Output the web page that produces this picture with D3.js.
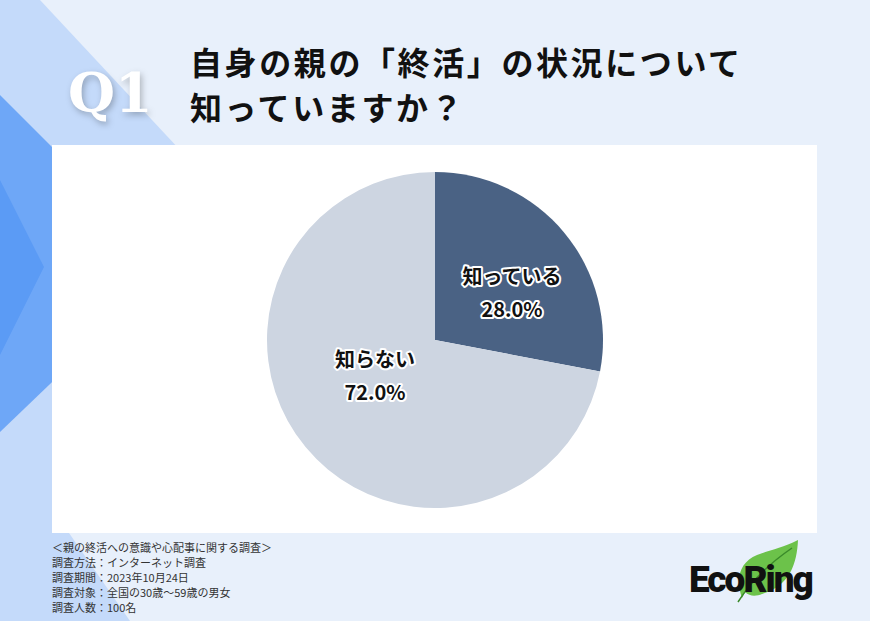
<!DOCTYPE html>
<html><head><meta charset="utf-8">
<script src="https://cdn.jsdelivr.net/npm/d3@7"></script>
<style>body{margin:0;background:#e8f0fb;}svg{display:block;}</style>
</head><body>
<svg id="chart" width="870" height="621"></svg>
<script>
// data
const categories = ["知っている", "知らない"];
const values = [28.0, 72.0];
const colors = ["#4a6284", "#cdd5e1"];
const notes = ["＜親の終活への意識や心配事に関する調査＞", "調査方法：インターネット調査", "調査期間：2023年10月24日", "調査対象：全国の30歳〜59歳の男女", "調査人数：100名"];

const svg = d3.select("#chart");
const font = "'Noto Sans CJK JP', 'Noto Sans', sans-serif";

svg.append("rect").attr("width", 870).attr("height", 621).attr("fill", "#e8f0fb");
// decoration
svg.append("polygon").attr("points", "0,0 40,0 180,150 0,150").attr("fill", "#c4dafa");
svg.append("polygon").attr("points", "0,150 60,150 60,520 130,621 0,621").attr("fill", "#c4dafa");
svg.append("polygon").attr("points", "0,95 172,267 0,432").attr("fill", "#6ea7f7");
svg.append("polygon").attr("points", "0,180 44,267 0,355").attr("fill", "#5b9bf5");

svg.append("text").attr("x", 68).attr("y", 112).text("Q1")
  .attr("font-family", "'DejaVu Serif', serif").attr("font-weight", "bold")
  .attr("font-size", 54).attr("fill", "#fff")
  .style("filter", "drop-shadow(2px 3px 3px rgba(0,0,0,0.25))");
const title = ["自身の親の「終活」の状況について", "知っていますか？"];
svg.selectAll(".title").data(title).enter().append("text")
  .attr("x", 190).attr("y", (d, i) => 75 + i * 45).text(d => d)
  .attr("font-family", font).attr("font-weight", "bold").attr("font-size", 32)
  .attr("letter-spacing", 2.6).attr("fill", "#111");

// panel
svg.append("rect").attr("x", 52).attr("y", 145).attr("width", 765).attr("height", 388).attr("fill", "#fff");

const cx = 435, cy = 340, r = 168;
const pie = d3.pie().sort(null).value(d => d)(values);
const arc = d3.arc().innerRadius(0).outerRadius(r);
const g = svg.append("g").attr("transform", `translate(${cx},${cy})`);
g.selectAll("path").data(pie).enter().append("path")
  .attr("d", arc).attr("fill", (d, i) => colors[i]);

const labelPos = [[77, -50], [-60, 33]];
pie.forEach((d, i) => {
  const [x, y] = labelPos[i];
  [categories[i], values[i].toFixed(1) + "%"].forEach((t, j) => {
    g.append("text").attr("x", x).attr("y", y + j * 33 - 6).attr("text-anchor", "middle")
      .text(t).attr("font-family", font).attr("font-weight", "bold").attr("font-size", 20)
      .attr("fill", "#111").attr("stroke", "#fff").attr("stroke-width", 4)
      .attr("paint-order", "stroke").attr("stroke-linejoin", "round");
  });
});

svg.selectAll(".note").data(notes).enter().append("text")
  .attr("x", 52).attr("y", (d, i) => 552 + i * 15).text(d => d)
  .attr("font-family", font).attr("font-size", 11).attr("fill", "#333");

// logo
svg.append("path").attr("d", "M742,598 C735,578 740,562 757,555 C770,550 782,548 798,540 C797,563 790,586 762,594 C757,596 750,597 745,592 Z")
  .attr("fill", "#6cc24a");
svg.append("path").attr("d", "M738,602 C750,583 770,563 792,548").attr("stroke", "#3a8a2a").attr("fill", "none").attr("stroke-width", 1.5);
svg.append("text").attr("x", 689).attr("y", 592).text("EcoRing")
  .attr("font-family", "'Roboto', 'Noto Sans', sans-serif").attr("font-weight", "900")
  .attr("font-size", 37).attr("fill", "#111").attr("letter-spacing", -2);
</script>
</body></html>
